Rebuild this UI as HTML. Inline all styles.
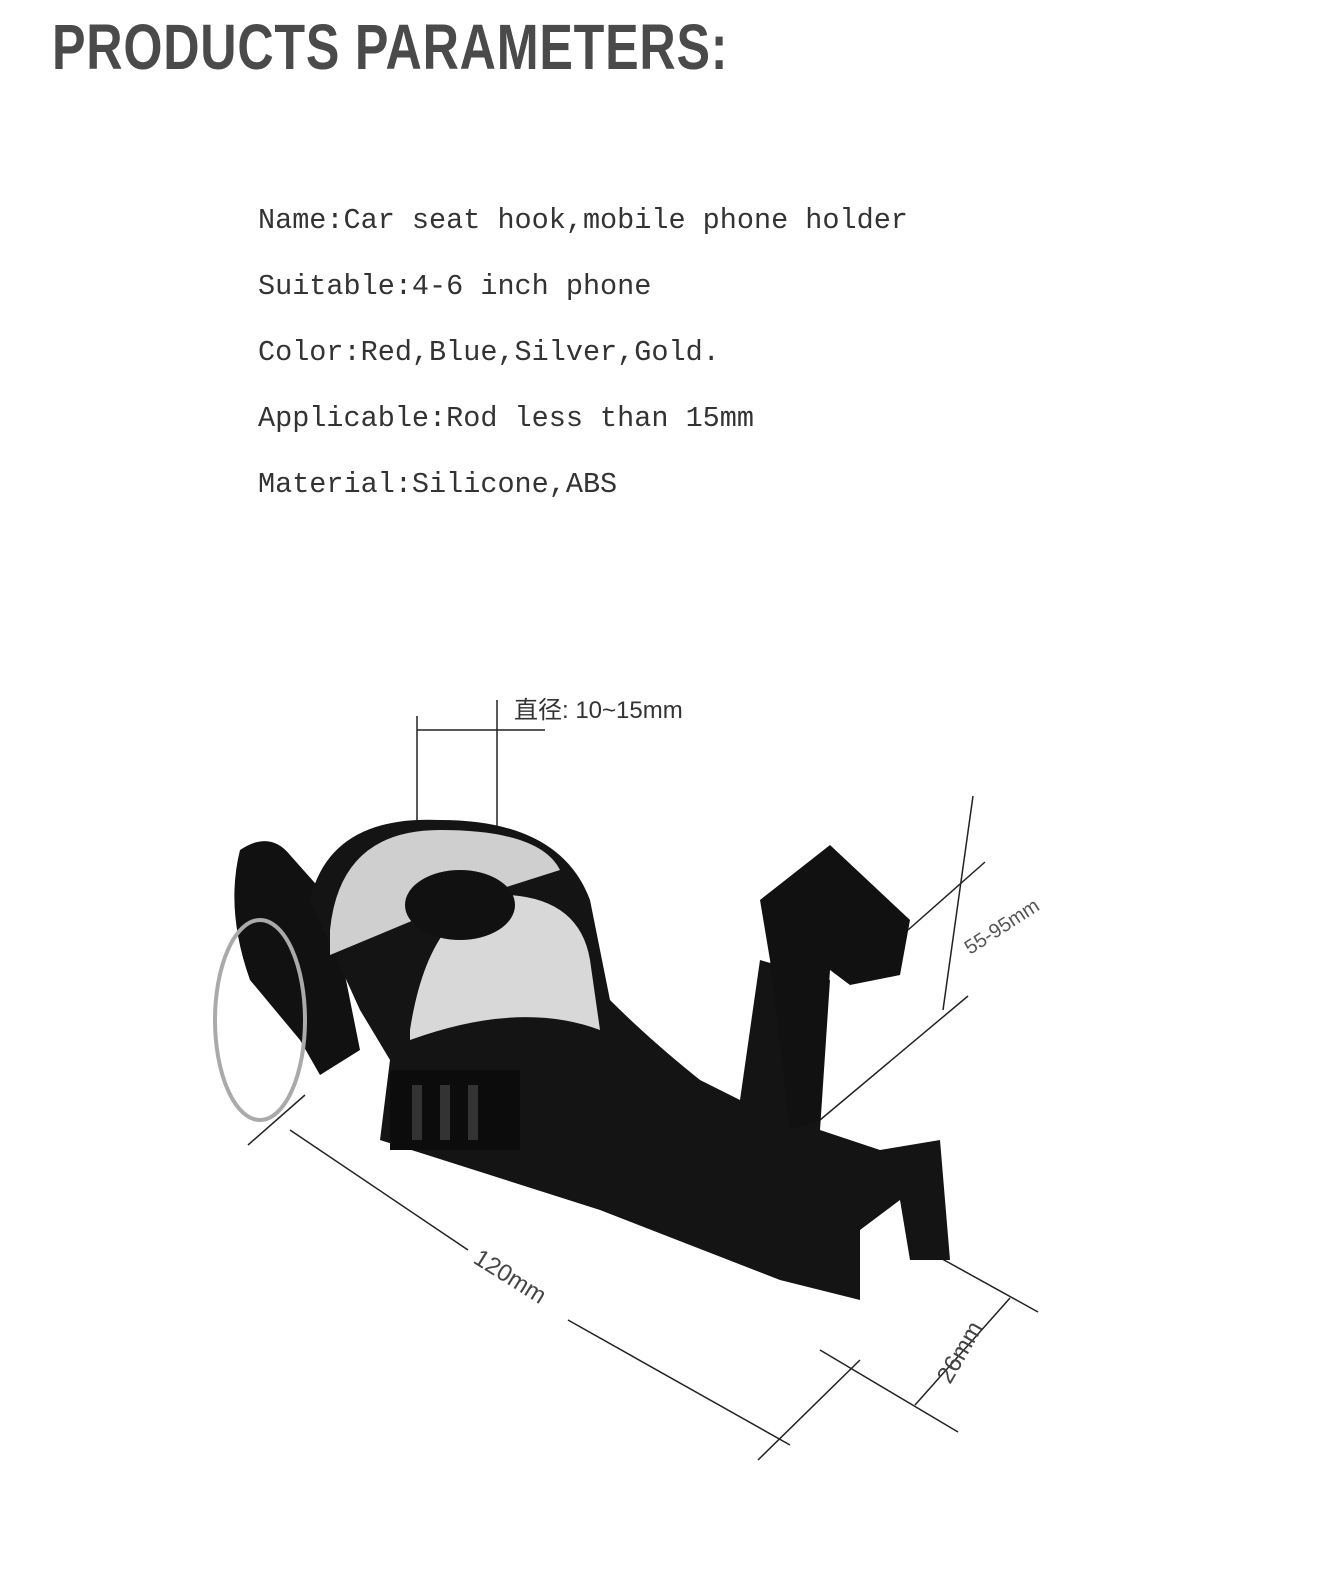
<!DOCTYPE html>
<html><head><meta charset="utf-8"><style>
body{margin:0;background:#fff;}
.wrap{position:relative;width:1329px;height:1575px;overflow:hidden;background:#fff;}
.title{position:absolute;left:52px;top:10px;font-family:"Liberation Sans",sans-serif;font-weight:bold;font-size:64px;color:#4a4a4a;transform:scaleX(0.785);transform-origin:0 0;white-space:nowrap;letter-spacing:1px;}
.p{position:absolute;left:258px;font-family:"Liberation Mono",monospace;font-size:28.5px;color:#333;white-space:nowrap;}
</style></head><body><div class="wrap">
<div class="title">PRODUCTS PARAMETERS:</div>
<div class="p" style="top:204px">Name:Car seat hook,mobile phone holder</div>
<div class="p" style="top:270px">Suitable:4-6 inch phone</div>
<div class="p" style="top:336px">Color:Red,Blue,Silver,Gold.</div>
<div class="p" style="top:402px">Applicable:Rod less than 15mm</div>
<div class="p" style="top:468px">Material:Silicone,ABS</div>
<svg width="1329" height="1575" style="position:absolute;left:0;top:0">
<g stroke="#222" stroke-width="1.5" fill="none">
<line x1="417" y1="716" x2="417" y2="900"/><line x1="497" y1="700" x2="497" y2="900"/><line x1="417" y1="730" x2="545" y2="730"/>
<line x1="973" y1="796" x2="943" y2="1010"/><line x1="908" y1="930" x2="985" y2="862"/><line x1="820" y1="1120" x2="968" y2="996"/>
<line x1="248" y1="1145" x2="305" y2="1095"/><line x1="290" y1="1130" x2="468" y2="1250"/><line x1="568" y1="1320" x2="790" y2="1445"/><line x1="758" y1="1460" x2="860" y2="1360"/>
<line x1="820" y1="1350" x2="958" y2="1432"/><line x1="935" y1="1255" x2="1038" y2="1312"/><line x1="1010" y1="1298" x2="915" y2="1405"/>
</g>
<text x="514" y="718" font-family="'Liberation Sans','Noto Sans CJK SC',sans-serif" font-size="24" fill="#333">直径: 10~15mm</text>
<text x="0" y="0" transform="translate(970,955) rotate(-33)" font-family="'Liberation Sans',sans-serif" font-size="20" fill="#555">55-95mm</text>
<text x="0" y="0" transform="translate(472,1262) rotate(32)" font-family="'Liberation Sans',sans-serif" font-size="24" fill="#444">120mm</text>
<text x="0" y="0" transform="translate(950,1385) rotate(-60)" font-family="'Liberation Sans',sans-serif" font-size="24" fill="#444">26mm</text>
<path d="M240 850 Q270 830 290 855 L330 900 L360 1050 L320 1075 L300 1040 L250 980 Q225 910 240 850Z" fill="#111"/>
<ellipse cx="260" cy="1020" rx="45" ry="100" fill="none" stroke="#aaa" stroke-width="4"/>
<path d="M310 900 Q330 815 440 820 Q560 820 590 900 L610 1000 Q650 1040 700 1080 L740 1100 L760 960 L830 980 L820 1130 L880 1150 L940 1140 L950 1260 L910 1260 L900 1200 L860 1230 L860 1300 L780 1280 L600 1210 L380 1140 L390 1060 L360 1010 Z" fill="#141414"/>
<path d="M330 930 Q340 830 440 830 Q540 830 560 870 L450 905 L330 955Z" fill="#cfcfcf"/>
<path d="M410 1030 Q430 900 510 895 Q580 900 590 960 L600 1030 Q520 1000 410 1040Z" fill="#d8d8d8"/>
<ellipse cx="460" cy="905" rx="55" ry="35" fill="#111"/>
<path d="M760 900 L830 845 L910 920 L900 975 L850 985 L830 970 L820 1120 L790 1130 L770 960 Z" fill="#111"/>
<rect x="390" y="1070" width="130" height="80" fill="#0c0c0c"/>
<g fill="#333"><rect x="412" y="1085" width="10" height="55"/><rect x="440" y="1085" width="10" height="55"/><rect x="468" y="1085" width="10" height="55"/></g>
</svg>
</div></body></html>
